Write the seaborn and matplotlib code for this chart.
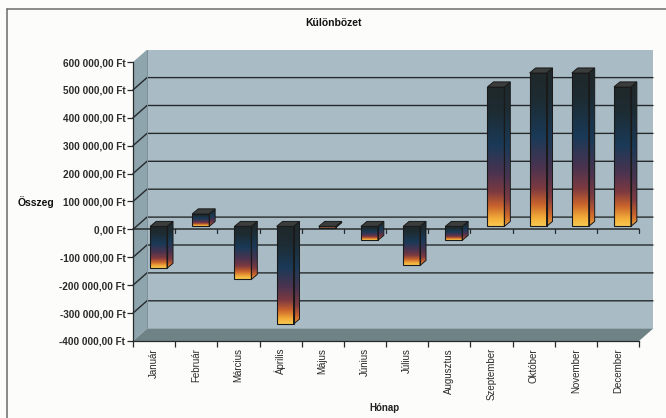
import numpy as np
import pandas as pd
import matplotlib
matplotlib.use("Agg")
import matplotlib.pyplot as plt
from matplotlib.colors import LinearSegmentedColormap
from matplotlib.lines import Line2D
from matplotlib.patches import Polygon
from matplotlib.transforms import ScaledTranslation
import seaborn as sns

months = ["Január", "Február", "Március", "Április", "Május", "Június",
          "Július", "Augusztus", "Szeptember", "Október", "November", "December"]
diff = [-150000, 45000, -190000, -350000, -5000, -50000,
        -140000, -50000, 500000, 550000, 550000, 500000]
ytick_values = [600000, 500000, 400000, 300000, 200000, 100000, 0,
                -100000, -200000, -300000, -400000]
ytick_labels = ["600 000,00 Ft", "500 000,00 Ft", "400 000,00 Ft", "300 000,00 Ft",
                "200 000,00 Ft", "100 000,00 Ft", "0,00 Ft", "-100 000,00 Ft",
                "-200 000,00 Ft", "-300 000,00 Ft", "-400 000,00 Ft"]
title = "Különbözet"
xlabel = "Hónap"
ylabel = "Összeg"

W, H, DPI = 666, 418, 100
sns.set_theme(style="white")
plt.rcParams["font.family"] = ["Liberation Sans", "DejaVu Sans"]
TXT = "#2b2b2b"

fig = plt.figure(figsize=(W / DPI, H / DPI), dpi=DPI, facecolor="#fcfcfa")
L, R, T, B = 133, 639, 62, 341
ax = fig.add_axes([L / W, 1 - B / H, (R - L) / W, (B - T) / H])
ax.patch.set_alpha(0)

df = pd.DataFrame({"Hónap": months, "Összeg": diff})
sns.barplot(data=df, x="Hónap", y="Összeg", order=months, width=0.4,
            color="#1c3a55", ax=ax, zorder=6)
ax.set_xlim(-0.5, 11.5)
ax.set_ylim(-400000, 600000)

px_x = 12 / (R - L)            # data units per pixel
px_y = 1000000 / (B - T)
wall_dx, wall_dy = 14 * px_x, 12.3 * px_y
bar_dx, bar_dy = 6 * px_x, 5 * px_y
x0, x1, y0, y1 = -0.5, 11.5, -400000, 600000

# 3-D walls
def poly(pts, c, z=0.5):
    ax.add_patch(Polygon(pts, closed=True, fc=c, ec="none", clip_on=False, zorder=z))

poly([(x0 + wall_dx, y0 + wall_dy), (x1 + wall_dx, y0 + wall_dy),
      (x1 + wall_dx, y1 + wall_dy), (x0 + wall_dx, y1 + wall_dy)], "#a9bcc6")
poly([(x0, y0), (x0 + wall_dx, y0 + wall_dy),
      (x0 + wall_dx, y1 + wall_dy), (x0, y1)], "#8fa5ad")
poly([(x0, y0), (x1, y0), (x1 + wall_dx, y0 + wall_dy),
      (x0 + wall_dx, y0 + wall_dy)], "#6f8386")

GRID = "#262a2c"
for v in ytick_values[1:-1]:
    ax.plot([x0, x0 + wall_dx, x1 + wall_dx], [v, v + wall_dy, v + wall_dy],
            color=GRID, lw=1.0, clip_on=False, zorder=1, solid_joinstyle="miter")
ax.plot([x0 + wall_dx] * 2, [y0 + wall_dy, y1 + wall_dy], color="#7d9099", lw=0.7,
        clip_on=False, zorder=1)

# zero axis on the front plane, with its ticks
boundaries = np.arange(-0.5, 12)
ax.plot([x0, x1], [0, 0], color=GRID, lw=1.1, zorder=2, clip_on=False)
for b in boundaries[1:]:
    ax.plot([b, b], [0, -4 * px_y], color=GRID, lw=0.9, zorder=2, clip_on=False)

# gradient bars, built from the seaborn rectangles
cmap = LinearSegmentedColormap.from_list("bar", [
    (0.00, "#20282a"), (0.18, "#1d2c33"), (0.42, "#1a3a58"), (0.62, "#4a3350"),
    (0.76, "#7d3a40"), (0.86, "#c9622c"), (0.95, "#f3ad38"), (1.00, "#f8c850")])
grad = np.linspace(0, 1, 128).reshape(-1, 1)
offset = ScaledTranslation(4.5 / DPI, 3 / DPI, fig.dpi_scale_trans)
tr = ax.transData + offset

for p in list(ax.patches):
    if not hasattr(p, "get_width") or p.get_zorder() != 6:
        continue
    bx, bw = p.get_x(), p.get_width()
    ya, yb = sorted((p.get_y(), p.get_y() + p.get_height()))
    front = ax.imshow(grad, cmap=cmap, vmin=0, vmax=1, aspect="auto",
                      extent=(bx, bx + bw, ya, yb), origin="upper",
                      transform=tr, zorder=5, interpolation="bilinear")
    front.set_clip_path(p.get_path(), p.get_patch_transform() + tr)
    side_pts = [(bx + bw, ya), (bx + bw + bar_dx, ya + bar_dy),
                (bx + bw + bar_dx, yb + bar_dy), (bx + bw, yb)]
    side = ax.imshow(grad * 0.93, cmap=cmap, vmin=0, vmax=1, aspect="auto",
                     extent=(bx + bw, bx + bw + bar_dx, ya, yb + bar_dy), origin="upper",
                     transform=tr, zorder=5, interpolation="bilinear")
    sp = Polygon(side_pts, closed=True, fc="none", ec="#1a1a1a", lw=0.7,
                 transform=tr, zorder=6, clip_on=False)
    ax.add_patch(sp)
    side.set_clip_path(sp)
    ax.add_patch(Polygon([(bx, yb), (bx + bw, yb), (bx + bw + bar_dx, yb + bar_dy),
                          (bx + bar_dx, yb + bar_dy)], closed=True, fc="#3a3d3c",
                         ec="#1a1a1a", lw=0.7, transform=tr, zorder=6, clip_on=False))
    p.set_transform(tr)
    p.set_facecolor("none")
    p.set_edgecolor("#1a1a1a")
    p.set_linewidth(0.8)
    p.set_clip_on(False)

ax.set_xlim(-0.5, 11.5)
ax.set_ylim(-400000, 600000)

# axes, ticks, text
for s in ("top", "right"):
    ax.spines[s].set_visible(False)
for s in ("left", "bottom"):
    ax.spines[s].set_color(GRID)
    ax.spines[s].set_linewidth(0.9)
    ax.spines[s].set_zorder(3)

ax.set_yticks(ytick_values)
ax.set_yticklabels(ytick_labels, fontsize=7.2, color=TXT, fontweight="bold")
ax.set_xticks(range(12))
ax.set_xticklabels(months, rotation=90, fontsize=7, color=TXT)
ax.set_xticks(boundaries, minor=True)
ax.tick_params(axis="x", which="major", length=0, pad=5, bottom=False)
ax.tick_params(axis="x", which="minor", length=4, width=0.9, color=GRID, bottom=True)
ax.tick_params(axis="y", length=4, width=0.9, color=GRID, pad=1.5, left=True)
ax.set_xlabel("")
ax.set_ylabel("")

fig.text(333 / W, 1 - 23 / H, title, ha="center", va="center",
         fontsize=7.5, fontweight="bold", color="#111111")
fig.text(18 / W, 1 - 202 / H, ylabel, ha="left", va="center",
         fontsize=7.5, fontweight="bold", color="#111111")
fig.text(384 / W, 1 - 408 / H, xlabel, ha="center", va="center",
         fontsize=7, fontweight="bold", color="#222222")

# chart frame
for xs, ys in (([7, 7], [418, 9]), ([7, 666], [9, 9])):
    fig.add_artist(Line2D([x / W for x in xs], [1 - y / H for y in ys],
                          color="#6a6a6a", lw=1.1))

fig.savefig("out.png", dpi=DPI, facecolor=fig.get_facecolor())
